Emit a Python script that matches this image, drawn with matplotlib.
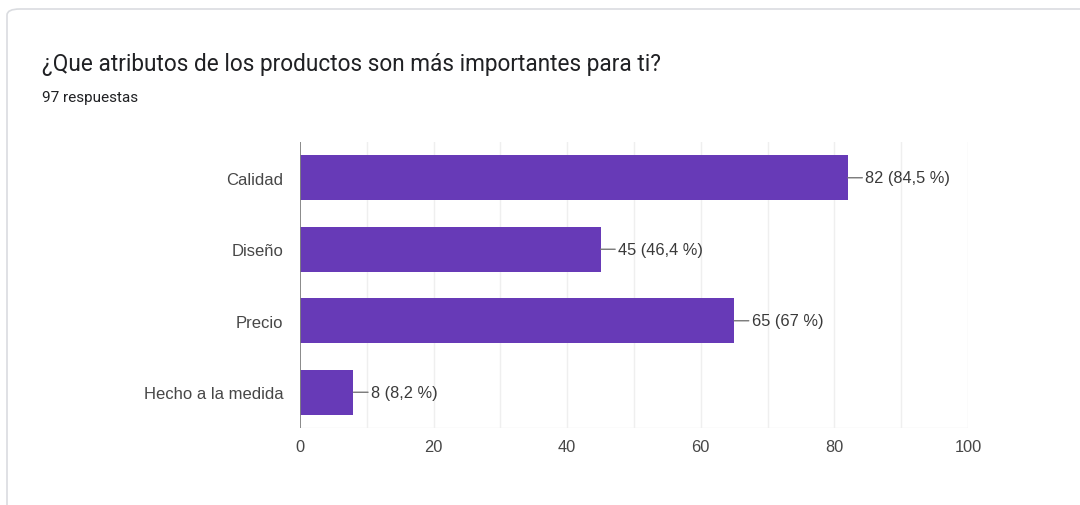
import matplotlib
matplotlib.use("Agg")
import matplotlib.pyplot as plt
from matplotlib.patches import FancyBboxPatch

categories = ["Calidad", "Diseño", "Precio", "Hecho a la medida"]
counts = [82, 45, 65, 8]
percents = ["84,5", "46,4", "67", "8,2"]
xticks = [0, 20, 40, 60, 80, 100]
title = "¿Que atributos de los productos son más importantes para ti?"
subtitle = "97 respuestas"

BAR = "#673ab7"
TXT = "#474747"

fig = plt.figure(figsize=(10.8, 5.06), dpi=100)
fig.patch.set_facecolor("white")

# card outline
card = FancyBboxPatch((7 / 1080, -0.1), 1.2, 1 - 10 / 506 + 0.1,
                      boxstyle="round,pad=0,rounding_size=0.012",
                      transform=fig.transFigure, facecolor="none",
                      edgecolor="#dadce0", linewidth=1.2, zorder=-5)
fig.patches.append(card)

fig.text(42 / 1080, 1 - 65 / 506, title, fontsize=16.3, family="Roboto",
         color="#202124", va="center", ha="left")
fig.text(42 / 1080, 1 - 98 / 506, subtitle, fontsize=11, family="Roboto",
         color="#202124", va="center", ha="left")

ax = fig.add_axes([300 / 1080, 1 - 429 / 506, 668 / 1080, 286 / 506])
ax.set_facecolor("none")
y = list(range(len(categories)))
ax.barh(y, counts, height=0.63, color=BAR, zorder=3)
ax.set_xlim(0, 100)
ax.set_ylim(len(categories) - 0.5, -0.5)

for v in range(10, 101, 10):
    ax.axvline(v, color="#efefef", linewidth=1, zorder=1)
ax.axhline(len(categories) - 0.5, color="#efefef", linewidth=1, zorder=1)
ax.axvline(0, color="#808080", linewidth=1.3, zorder=4)

for i, (c, p) in enumerate(zip(counts, percents)):
    ax.annotate(f"{c} ({p} %)", xy=(c, i), xytext=(12.5, 0),
                textcoords="offset points", va="center", ha="left",
                fontsize=11.8, family="Liberation Sans", color="#3a3a3a",
                arrowprops=dict(arrowstyle="-", color="#777777", lw=1,
                                shrinkA=0, shrinkB=0))

ax.set_yticks(y)
ax.set_yticklabels(categories, family="Liberation Sans", fontsize=12, color=TXT)
ax.set_xticks(xticks)
ax.set_xticklabels([str(t) for t in xticks], family="Liberation Sans",
                   fontsize=11.8, color=TXT)
ax.tick_params(axis="both", length=0)
ax.tick_params(axis="y", pad=12)
ax.tick_params(axis="x", pad=8)
for s in ax.spines.values():
    s.set_visible(False)

fig.savefig("out.png", dpi=100, facecolor="white")
